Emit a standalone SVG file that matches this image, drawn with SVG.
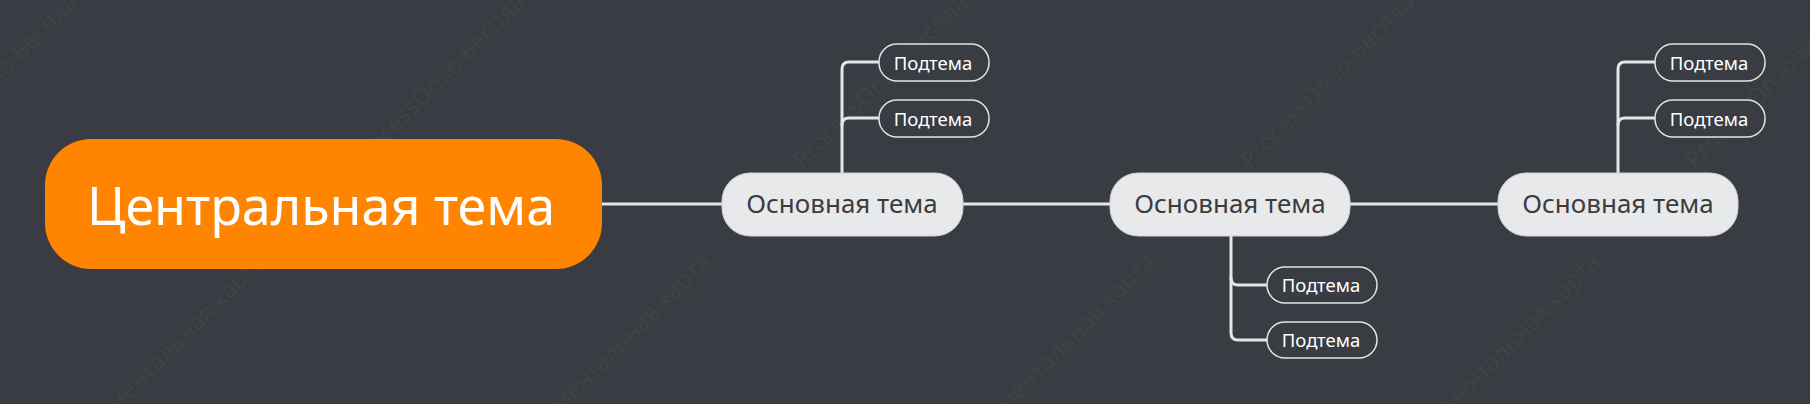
<svg xmlns="http://www.w3.org/2000/svg" width="1810" height="419" viewBox="0 0 1810 419">
<style>
.wm{font-family:"Open Sans","Noto Sans",sans-serif;font-size:24px;fill:#ffffff;fill-opacity:0.05}
.main rect{fill:#e8e9eb;stroke:#cfd0d2;stroke-width:1}
.main text{font-family:"Noto Sans","Open Sans",sans-serif;font-size:26px;fill:#3c3c3c;text-anchor:middle}
.sub rect{fill:#393c42;stroke:#e4e4e4;stroke-width:1.5}
.sub text{font-family:"Noto Sans","Open Sans",sans-serif;font-size:18.5px;fill:#ffffff;text-anchor:middle}
.conn path{fill:none;stroke:#e6e6e6;stroke-width:3;stroke-linecap:round}
</style>
<rect x="0" y="0" width="1810" height="419" fill="#ffffff"/>
<rect x="0" y="0" width="1810" height="404" fill="#393c42"/>
<g id="watermark">
<text class="wm" transform="translate(-87,170) rotate(-45)">ProcessOn.io Бесплатная ментальная карта</text>
<text class="wm" transform="translate(360,170) rotate(-45)">ProcessOn.io Бесплатная ментальная карта</text>
<text class="wm" transform="translate(-91,621) rotate(-45)">ProcessOn.io Бесплатная ментальная карта</text>
<text class="wm" transform="translate(803,170) rotate(-45)">ProcessOn.io Бесплатная ментальная карта</text>
<text class="wm" transform="translate(354,621) rotate(-45)">ProcessOn.io Бесплатная ментальная карта</text>
<text class="wm" transform="translate(1250,170) rotate(-45)">ProcessOn.io Бесплатная ментальная карта</text>
<text class="wm" transform="translate(799,621) rotate(-45)">ProcessOn.io Бесплатная ментальная карта</text>
<text class="wm" transform="translate(1695,170) rotate(-45)">ProcessOn.io Бесплатная ментальная карта</text>
<text class="wm" transform="translate(1244,621) rotate(-45)">ProcessOn.io Бесплатная ментальная карта</text>
<text class="wm" transform="translate(1689,621) rotate(-45)">ProcessOn.io Бесплатная ментальная карта</text>
</g>
<g id="connectors" class="conn">
<path d="M602,204 H722"/>
<path d="M963,204 H1110"/>
<path d="M1350,204 H1498"/>
<path d="M842,173 V69 Q842,62 849,62 H879"/>
<path d="M842,125 Q842,118 849,118 H879"/>
<path d="M1231,236 V333 Q1231,340 1238,340 H1267"/>
<path d="M1231,278 Q1231,285 1238,285 H1267"/>
<path d="M1618,173 V69 Q1618,62 1625,62 H1655"/>
<path d="M1618,125 Q1618,118 1625,118 H1655"/>
</g>
<g id="central">
<rect x="45" y="139" width="557" height="130" rx="46" ry="46" fill="#ff8400"/>
<text x="321" y="225" font-family="Noto Sans, Open Sans, sans-serif" font-size="52" fill="#ffffff" text-anchor="middle">Центральная тема</text>
</g>
<g id="main1" class="main">
<rect x="722" y="173" width="241" height="63" rx="28" ry="28"/>
<text x="842" y="213">Основная тема</text>
</g>
<g id="main2" class="main">
<rect x="1110" y="173" width="240" height="63" rx="28" ry="28"/>
<text x="1230" y="213">Основная тема</text>
</g>
<g id="main3" class="main">
<rect x="1498" y="173" width="240" height="63" rx="28" ry="28"/>
<text x="1618" y="213">Основная тема</text>
</g>
<g id="sub1a" class="sub">
<rect x="879" y="44" width="110" height="37" rx="18" ry="18"/>
<text x="933" y="69.5">Подтема</text>
</g>
<g id="sub1b" class="sub">
<rect x="879" y="100" width="110" height="37" rx="18" ry="18"/>
<text x="933" y="125.5">Подтема</text>
</g>
<g id="sub2a" class="sub">
<rect x="1267" y="267" width="110" height="36" rx="18" ry="18"/>
<text x="1321" y="291.5">Подтема</text>
</g>
<g id="sub2b" class="sub">
<rect x="1267" y="322" width="110" height="36" rx="18" ry="18"/>
<text x="1321" y="346.5">Подтема</text>
</g>
<g id="sub3a" class="sub">
<rect x="1655" y="44" width="110" height="37" rx="18" ry="18"/>
<text x="1709" y="69.5">Подтема</text>
</g>
<g id="sub3b" class="sub">
<rect x="1655" y="100" width="110" height="37" rx="18" ry="18"/>
<text x="1709" y="125.5">Подтема</text>
</g>
</svg>
